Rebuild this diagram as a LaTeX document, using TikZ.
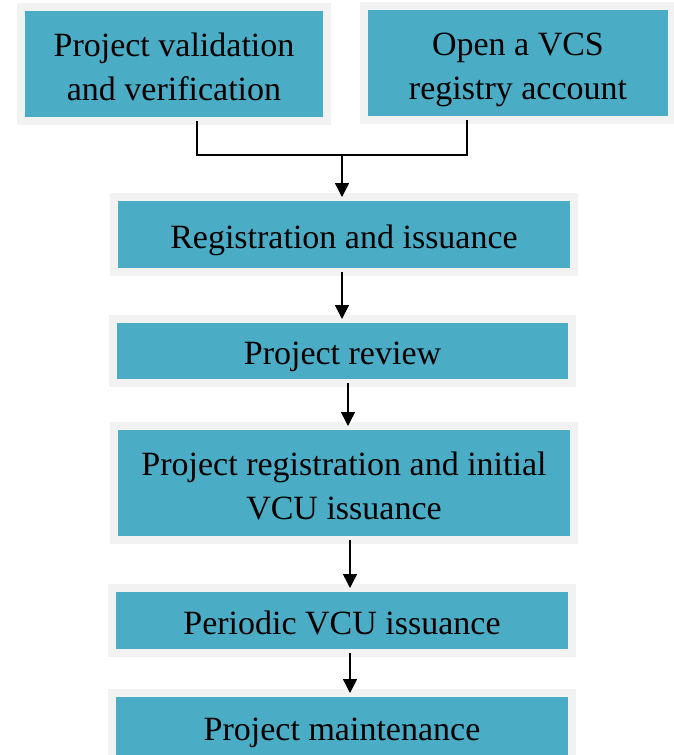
\documentclass[tikz,border=0pt]{standalone}
\usepackage{fontspec}
\setmainfont{Liberation Serif}
\usetikzlibrary{arrows.meta}

\definecolor{stepfill}{HTML}{4BACC6}
\definecolor{steprim}{HTML}{F2F2F2}

\begin{document}
\begin{tikzpicture}[x=1pt, y=-1pt,
    stepbox/.style={fill=stepfill, draw=steprim, line width=8pt,
      outer sep=0pt, inner sep=0pt, align=center,
      text height=27pt, text depth=0pt,
      font=\fontsize{34}{44}\selectfont},
    twoline/.style={text height=72pt},
    arr/.style={-{Triangle[width=14pt, length=14pt]}, line width=1.5pt}]

  \useasboundingbox (0,0) rectangle (674,755);

  % --- top row ---
  \node[stepbox, twoline, minimum width=306, minimum height=114] (valid) at (174,64)
    {Project validation\\and verification};
  \node[stepbox, twoline, minimum width=308, minimum height=114] (acct) at (518,63)
    {Open a VCS\\registry account};

  % --- main chain ---
  \node[stepbox, minimum width=460, minimum height=75] (reg) at (344,234.5)
    {Registration and issuance};
  \node[stepbox, minimum width=459, minimum height=64] (review) at (342.5,351)
    {Project review};
  \node[stepbox, twoline, minimum width=460, minimum height=114] (init) at (344,483)
    {Project registration and initial\\VCU issuance};
  \node[stepbox, minimum width=460, minimum height=65] (period) at (342,620.5)
    {Periodic VCU issuance};
  \node[stepbox, minimum width=460, minimum height=68] (maint) at (342,727)
    {Project maintenance};

  % --- connectors ---
  \coordinate (join) at (342,155);
  \draw[line width=1.5pt] ([xshift=23]valid.south) |- (join)
    -| ([xshift=-51]acct.south);
  \draw[arr] (join) -- (join |- reg.north);
  \draw[arr] ([xshift=-2]reg.south) -- ([xshift=-2]reg.south |- review.north);
  \draw[arr] ([xshift=5.5]review.south) -- ([xshift=5.5]review.south |- init.north);
  \draw[arr] ([xshift=6]init.south) -- ([xshift=6]init.south |- period.north);
  \draw[arr] ([xshift=8]period.south) -- ([xshift=8]period.south |- maint.north);

\end{tikzpicture}
\end{document}
